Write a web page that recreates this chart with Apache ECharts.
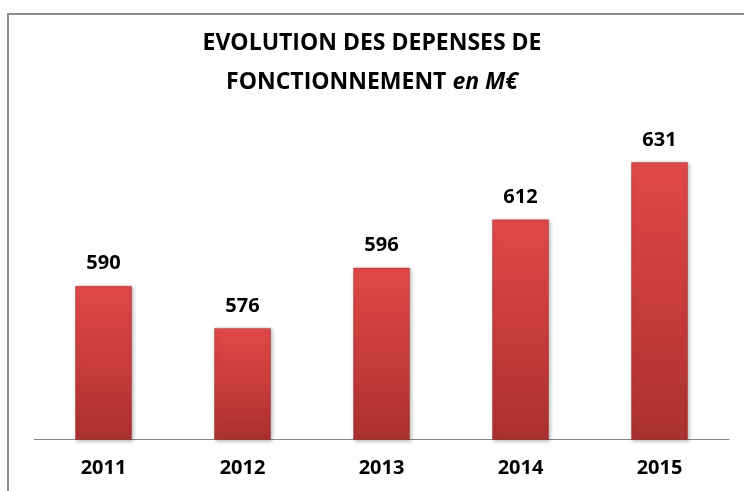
<!DOCTYPE html>
<html>
<head>
<meta charset="utf-8">
<script src="https://cdn.jsdelivr.net/npm/echarts@6/dist/echarts.min.js"></script>
<style>
  html, body { margin: 0; padding: 0; background: #fff; }
  #chart { width: 744px; height: 491px; }
</style>
</head>
<body>
<div id="chart"></div>
<script>
// données
var years = ["2011", "2012", "2013", "2014", "2015"];
var depenses = [590, 576, 596, 612, 631];

var myChart = echarts.init(document.getElementById("chart"));

var titleFont = {
    fontFamily: "Open Sans",
    fontSize: 23,
    fontWeight: "bold",
    color: "#000",
    lineHeight: 28
};

var option = {
    backgroundColor: "#fff",
    animation: false,
    // cadre autour du graphique
    graphic: [{
        type: "rect",
        shape: { x: 8, y: 14, width: 780, height: 520 },
        style: { fill: "none", stroke: "#8c8c8c", lineWidth: 2 }
    }],
    // titre sur deux lignes, chacune centrée
    title: [{
        text: "EVOLUTION DES DEPENSES DE",
        left: "center",
        top: 29,
        padding: 0,
        textStyle: titleFont
    }, {
        text: "FONCTIONNEMENT {i|en M€}",
        left: "center",
        top: 68,
        padding: 0,
        textStyle: Object.assign({}, titleFont, {
            rich: {
                i: Object.assign({}, titleFont, { fontStyle: "italic" })
            }
        })
    }],
    grid: { left: 34, right: 15, top: 74.5, bottom: 51.5 },
    xAxis: {
        type: "category",
        data: years,
        axisLine: { lineStyle: { color: "#888", width: 1 } },
        axisTick: { show: false },
        axisLabel: {
            margin: 19,
            fontFamily: "Open Sans",
            fontSize: 20,
            fontWeight: "bold",
            color: "#000"
        }
    },
    yAxis: {
        type: "value",
        min: 539,
        max: 660,
        show: false,
        splitLine: { show: false }
    },
    series: [{
        type: "bar",
        data: depenses,
        barWidth: 57,
        itemStyle: {
            color: new echarts.graphic.LinearGradient(0, 0, 0, 1, [
                { offset: 0, color: "#e04848" },
                { offset: 0.5, color: "#c83c3c" },
                { offset: 1, color: "#aa3030" }
            ]),
            borderColor: "rgba(150,30,30,0.35)",
            borderWidth: 1,
            shadowColor: "rgba(0,0,0,0.3)",
            shadowBlur: 4,
            shadowOffsetX: 1,
            shadowOffsetY: 1
        },
        label: {
            show: true,
            position: "top",
            distance: 12,
            fontFamily: "Open Sans",
            fontSize: 20,
            fontWeight: "bold",
            color: "#000"
        }
    }]
};

myChart.setOption(option);
window.addEventListener("resize", function () {
    myChart.resize();
});
</script>
</body>
</html>
